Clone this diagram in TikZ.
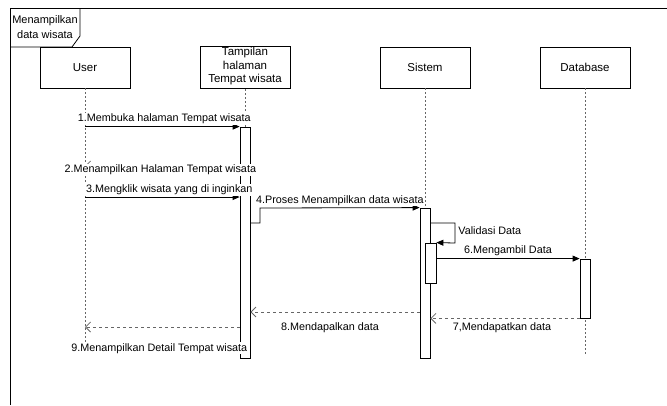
\documentclass[tikz,border=0pt]{standalone}
\usepackage{fontspec}
\setmainfont{Liberation Sans}
\usetikzlibrary{arrows.meta}

\begin{document}
\begin{tikzpicture}[x=1pt,y=-1pt,line width=0.8pt,
			box/.style={draw,rectangle,minimum width=90pt,minimum height=41pt,inner sep=1pt,font=\fontsize{11.5}{13.5}\selectfont},
			bar/.style={draw,fill=white,minimum width=10pt,inner sep=0pt},
			lifeline/.style={draw=black!60,dash pattern=on 2pt off 2pt},
			msg/.style={-{Triangle[length=7pt,width=6pt]}},
			ret/.style={dashed,draw=black!60,-{Straight Barb[length=5pt,width=10pt]}},
			lbl/.style={fill=white,inner sep=1pt,font=\fontsize{10.8}{12}\selectfont}]
			\useasboundingbox (0,0) rectangle (667,405);
			\draw (10,405) -- (10,8) -- (667,8);
			\draw (10,47) -- (72,47) -- (80,36) -- (80,8);
			\node[align=center,inner sep=0pt,font=\fontsize{11}{14.5}\selectfont] (frame) at (45,27) {Menampilkan\\data wisata};
			\node[box] (user) at (85,67.5) {User};
			\node[box,align=center,text depth=5pt] (tampilan) at (245,67.5) {Tampilan\\halaman\\Tempat wisata};
			\node[box] (sistem) at (425,67.5) {Sistem};
			\node[box] (database) at (585,67.5) {Database};
			\coordinate (userEnd) at (85,345);
			\coordinate (tampilanEnd) at (245,358);
			\coordinate (sistemEnd) at (425,358);
			\coordinate (databaseEnd) at (585,355);
			\draw[lifeline] (user) -- (userEnd);
			\draw[lifeline] (tampilan) -- (tampilanEnd);
			\draw[lifeline] (sistem) -- (sistemEnd);
			\draw[lifeline] (database) -- (databaseEnd);
			\node[bar,minimum height=231pt] (barT) at (245,242.5) {};
			\node[bar,minimum height=150pt] (barS) at (425,283) {};
			\node[bar,minimum width=11pt,minimum height=40pt] (barS2) at (430.5,263) {};
			\node[bar,minimum height=59pt] (barD) at (585,288.5) {};
			\draw[msg] (user |- barT.north) -- (barT.north west)
			node[lbl,midway,above=1pt,xshift=2pt] (m1) {1.Membuka halaman Tempat wisata};
			\coordinate (y2) at (0,166);
			\draw[ret] (barT.west |- y2) -- (user |- y2)
			node[lbl,midway,yshift=-4pt,xshift=-2pt] (m2) {2.Menampilkan Halaman Tempat wisata};
			\coordinate (y3) at (0,197);
			\draw[msg] (user |- y3) -- (barT.west |- y3)
			node[lbl,midway,above=1pt,xshift=7pt] (m3) {3.Mengklik wisata yang di inginkan};
			\coordinate (y4) at (0,223);
			\draw[msg] (barT.east |- y4) -- (260,223) -- (260,208) -- (barS.north west)
			node[lbl,midway,above=1pt] (m4) {4.Proses Menampilkan data wisata};
			\draw[msg] (barS.east |- y4) -- (455,223) -- (455,243) -- (barS2.north east);
			\node[lbl,anchor=west] (m5) at (457,231) {Validasi Data};
			\draw[msg] (barS2.east |- barD.north) -- (barD.north west)
			node[lbl,midway,above=1pt] (m6) {6.Mengambil Data};
			\draw[ret] (barD.south west) -- (barS.east |- barD.south)
			node[lbl,midway,below=3pt,xshift=-3pt] (m7) {7,Mendapatkan data};
			\coordinate (y8) at (0,312);
			\draw[ret] (barS.west |- y8) -- (barT.east |- y8)
			node[lbl,midway,below=9pt,xshift=-5pt] (m8) {8.Mendapalkan data};
			\coordinate (y9) at (0,327);
			\draw[ret] (barT.west |- y9) -- (user |- y9)
			node[lbl,midway,below=15pt,xshift=-3pt] (m9) {9.Menampilkan Detail Tempat wisata};
		\end{tikzpicture}
\end{document}
